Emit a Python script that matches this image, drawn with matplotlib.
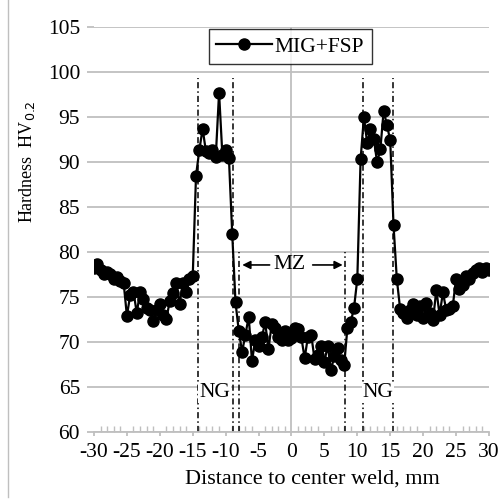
import matplotlib
matplotlib.use("Agg")
import matplotlib.pyplot as plt
from matplotlib.lines import Line2D
from matplotlib.ticker import MultipleLocator, FuncFormatter

plt.rcParams['font.family'] = ['Liberation Serif', 'DejaVu Serif']
plt.rcParams['axes.unicode_minus'] = False

# hardness profile, MIG+FSP (distance mm, HV0.2)
dist = [-30, -29.5, -29, -28.5, -28, -27.5, -27, -26.5, -26, -25.5,
        -25, -24.5, -24, -23.5, -23, -22.5, -22, -21.5, -21, -20.5,
        -20, -19.5, -19, -18.5, -18, -17.5, -17, -16.5, -16, -15.5,
        -15, -14.5, -14, -13.5, -13, -12.5, -12, -11.5, -11, -10.5,
        -10, -9.5, -9, -8.5, -8, -7.5, -7, -6.5, -6, -5.5,
        -5, -4.5, -4, -3.5, -3, -2.5, -2, -1.5, -1, -0.5,
        0, 0.5, 1, 1.5, 2, 2.5, 3, 3.5, 4, 4.5,
        5, 5.5, 6, 6.5, 7, 7.5, 8, 8.5, 9, 9.5,
        10, 10.5, 11, 11.5, 12, 12.5, 13, 13.5, 14, 14.5,
        15, 15.5, 16, 16.5, 17, 17.5, 18, 18.5, 19, 19.5,
        20, 20.5, 21, 21.5, 22, 22.5, 23, 23.5, 24, 24.5,
        25, 25.5, 26, 26.5, 27, 27.5, 28, 28.5, 29, 29.5, 30]
hv = [78.2, 78.7, 78.0, 77.5, 77.8, 77.6, 77.0, 77.2, 76.8, 76.6,
      72.9, 75.2, 75.6, 73.2, 75.6, 74.8, 73.8, 73.5, 72.3, 73.5,
      74.2, 73.0, 72.6, 74.5, 75.4, 76.6, 74.2, 76.6, 75.5, 77.0,
      77.3, 88.5, 91.3, 93.7, 91.2, 91.0, 91.3, 90.6, 97.7, 90.8,
      91.3, 90.4, 82.0, 74.4, 71.2, 68.9, 70.8, 72.8, 67.9, 70.2,
      69.5, 70.5, 72.2, 69.2, 72.0, 71.5, 70.6, 70.2, 71.2, 70.2,
      70.4, 71.6, 71.4, 70.5, 68.2, 70.6, 70.8, 68.1, 68.6, 69.5,
      67.8, 69.6, 66.9, 68.4, 69.3, 68.0, 67.4, 71.6, 72.2, 73.8,
      77.0, 90.3, 95.0, 92.1, 93.7, 92.6, 90.0, 91.4, 95.7, 94.1,
      92.4, 83.0, 77.0, 73.7, 73.2, 72.7, 73.6, 74.2, 73.0, 74.0,
      72.7, 74.3, 73.2, 72.4, 75.8, 73.0, 75.5, 73.6, 73.7, 74.0,
      77.0, 75.9, 76.3, 77.3, 77.0, 77.7, 78.0, 78.2, 77.8, 78.2, 78.0]

# zone boundaries (mm)
ng_lines = [-14.2, -8.9, 10.9, 15.4]
mz_lines = [-7.9, 8.2]

fig = plt.figure(figsize=(5.01, 5.04), dpi=100)
ax = fig.add_axes([0.1876, 0.1429, 0.7884, 0.8035])

gray = '#bfbfbf'
fs = 15.5
ax.set_xlim(-30, 30)
ax.set_ylim(60, 105)
ax.yaxis.set_major_locator(MultipleLocator(5))
ax.xaxis.set_major_locator(MultipleLocator(5))
ax.xaxis.set_minor_locator(MultipleLocator(1))
ax.xaxis.set_major_formatter(FuncFormatter(lambda v, p: '%d' % v))
ax.grid(axis='y', color=gray, lw=1.3)
ax.set_axisbelow(True)

for s in ['top', 'right', 'left']:
    ax.spines[s].set_visible(False)
ax.spines['bottom'].set_color(gray)
ax.spines['bottom'].set_linewidth(1.3)
ax.axvline(0, color=gray, lw=1.3, zorder=0)

ax.tick_params(axis='y', length=5, color=gray, width=1.3, pad=5, labelsize=fs)
ax.tick_params(axis='x', which='major', direction='out', length=3, color=gray,
               width=1.3, pad=5, labelsize=fs)
ax.tick_params(axis='x', which='minor', direction='in', length=4, color=gray, width=1)

for xv in ng_lines:
    ax.plot([xv, xv], [60, 99.3], color='black', lw=1.1, ls=(0, (4, 2, 1, 2)), zorder=2)
for xv in mz_lines:
    ax.plot([xv, xv], [60, 80], color='black', lw=1.1, ls=(0, (4, 2, 1, 2)), zorder=2)

ax.plot(dist, hv, color='black', lw=1.6, marker='o', ms=8, zorder=3, label='MIG+FSP')

ax.text(-0.3, 78.56, 'MZ', ha='center', va='center', fontsize=fs)
ax.annotate('', xy=(mz_lines[0], 78.56), xytext=(-2.9, 78.56),
            arrowprops=dict(arrowstyle='-|>', color='black', lw=1.2, mutation_scale=12))
ax.annotate('', xy=(mz_lines[1], 78.56), xytext=(2.8, 78.56),
            arrowprops=dict(arrowstyle='-|>', color='black', lw=1.2, mutation_scale=12))

for xv in [-11.7, 13.1]:
    ax.text(xv, 64.4, 'NG', ha='center', va='center', fontsize=fs, zorder=4,
            bbox=dict(facecolor='white', edgecolor='none', pad=0.5))

leg = ax.legend(loc='upper center', bbox_to_anchor=(0.497, 1.0), fontsize=fs,
                frameon=True, fancybox=False, edgecolor='black',
                handlelength=2.6, borderpad=0.35, handletextpad=0.1, borderaxespad=0.1)
leg.get_frame().set_linewidth(1.0)

ax.set_xlabel('Distance to center weld, mm', fontsize=16)
ax.xaxis.set_label_coords(0.554, -0.093)
ax.set_ylabel('Hardness  HV$_{0.2}$', fontsize=13)
ax.yaxis.set_label_coords(-0.144, 0.667)

fig.add_artist(Line2D([8 / 501, 8 / 501], [1, 1 - 497 / 504], color=gray, lw=1))

fig.savefig('out.png', dpi=100)
